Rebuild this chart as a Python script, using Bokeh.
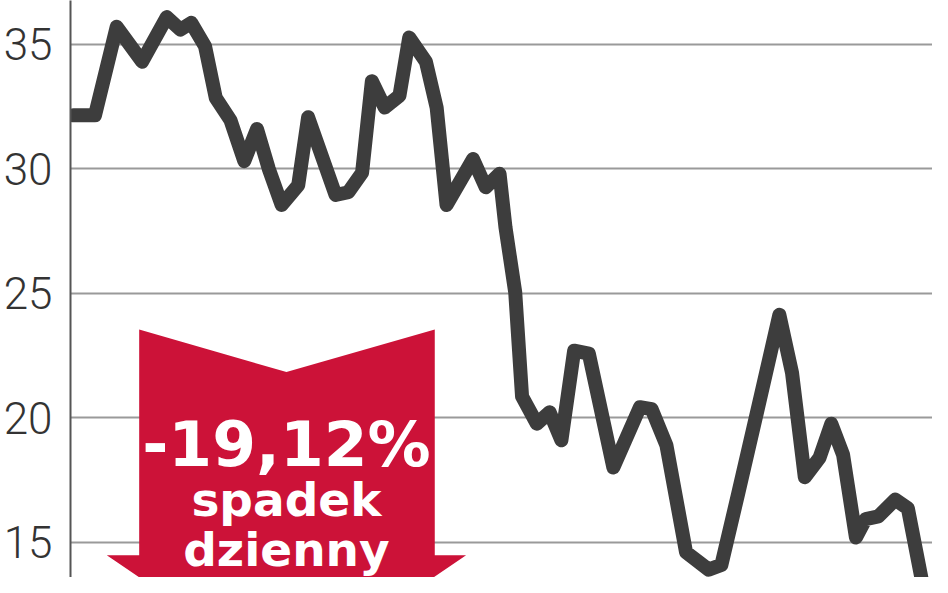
from bokeh.plotting import figure
from bokeh.models import Range1d, FixedTicker
from bokeh.core.properties import value
from bokeh.embed import file_html
from bokeh.resources import INLINE

# ---- data ----
days = [0, 1.83, 3.67, 5.83, 7.92, 9.08, 10, 11.17, 12.08, 13.33, 14.5, 15.58, 16.58,
        17.67, 19.08, 19.92, 22.25, 23.33, 24.5, 25.33, 26.42, 27.67, 28.5, 29.92,
        30.83, 31.67, 33.92, 35, 36.17, 36.67, 37.5, 38.08, 39.33, 40.42, 41.42, 42.5,
        43.75, 45.83, 48.08, 49.08, 50.33, 52, 53.92, 55, 56.42, 58.33, 59.92, 61,
        62.08, 63.33, 64.33, 65.33, 66.42, 67.25, 68.33, 69.75, 70.83, 72.42]
price = [32.15, 32.15, 35.70, 34.30, 36.09, 35.59, 35.86, 34.92, 32.85, 31.95, 30.31,
         31.60, 30.00, 28.55, 29.34, 32.07, 28.95, 29.06, 29.84, 33.52, 32.46, 32.93,
         35.27, 34.30, 32.46, 28.55, 30.39, 29.26, 29.80, 27.66, 25.04, 20.86, 19.77,
         20.23, 19.10, 22.70, 22.58, 18.01, 20.43, 20.35, 18.91, 14.61, 13.91, 14.10,
         16.95, 20.86, 24.14, 21.80, 17.62, 18.40, 19.77, 18.52, 15.20, 15.94, 16.05,
         16.72, 16.37, 12.50]
y_ticks = [15, 20, 25, 30, 35]
badge_lines = ["-19,12%", "spadek", "dzienny"]

# arrow badge outline (x in days, y in price units)
arrow_x = [5.58, 18.08, 30.67, 30.67, 33.33, 18.08, 2.83, 5.58]
arrow_y = [23.555, 21.84, 23.555, 14.49, 14.49, 9.57, 14.49, 14.49]

p = figure(width=932, height=577, output_backend="svg", toolbar_location=None,
           x_range=Range1d(-0.25, 72.92), y_range=Range1d(13.594, 36.758),
           min_border_left=69, min_border_right=0, min_border_top=0, min_border_bottom=0)
p.outline_line_color = None
p.background_fill_color = "white"
p.border_fill_color = "white"
p.xaxis.visible = False
p.xgrid.visible = False

p.ygrid.ticker = FixedTicker(ticks=y_ticks)
p.ygrid.grid_line_color = "#9a9a9a"
p.ygrid.grid_line_width = 2

yax = p.yaxis[0]
yax.ticker = FixedTicker(ticks=y_ticks)
yax.axis_line_color = "#555555"
yax.axis_line_width = 2
yax.major_tick_line_color = None
yax.minor_tick_line_color = None
yax.major_label_text_font = "Roboto Light, Roboto"
yax.major_label_text_font_size = "44px"
yax.major_label_text_color = "#333333"
yax.major_label_standoff = 12

p.line(days, price, line_color="#3d3d3d", line_width=14, line_join="round", line_cap="round")

p.patch(arrow_x, arrow_y, fill_color="#cc1238", line_color=None)

p.text(x=[18.08], y=[18.95], text=[badge_lines[0]], text_color="white",
       text_font=value("DejaVu Sans"), text_font_style="bold", text_font_size="63px",
       text_align="center", text_baseline="alphabetic")
p.text(x=[18.08, 18.08], y=[16.72, 14.7], text=badge_lines[1:], text_color="white",
       text_font=value("DejaVu Sans"), text_font_style="bold", text_font_size="47px",
       text_align="center", text_baseline="alphabetic")

open("out.html", "w").write(file_html(p, INLINE))
